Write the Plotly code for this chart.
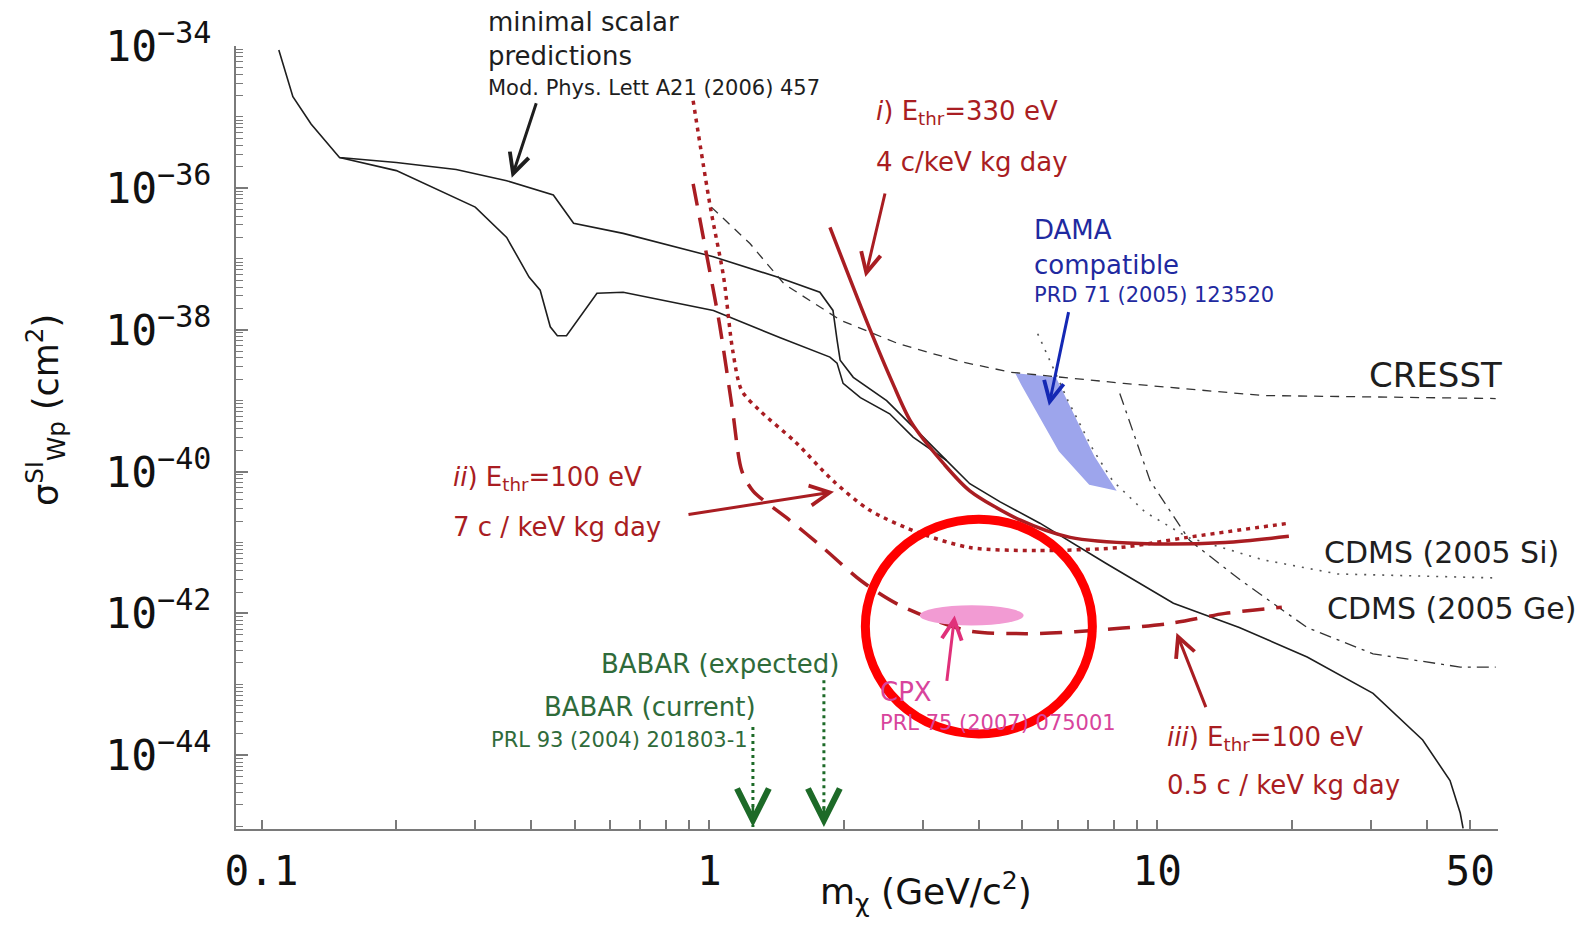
import numpy as np
import plotly.graph_objects as go

# ---------------- data: WIMP mass (GeV/c^2) and cross section (cm^2) ----------------
# minimal scalar predictions: upper and lower boundary of the band (black solid)
scalar_upper_mass = [0.1093, 0.1175, 0.129, 0.1493, 0.2, 0.272, 0.3527, 0.4483, 0.4976, 0.642,
                     1.021, 1.418, 1.765, 1.888, 1.928, 1.959, 2.096, 2.488, 2.85, 3.383]
scalar_upper_sigma = [8.77e-35, 1.93e-35, 7.94e-36, 2.68e-36, 2.28e-36, 1.81e-36, 1.26e-36, 7.94e-37, 3.16e-37,
                      2.28e-37, 1.07e-37, 5.53e-38, 3.38e-38, 1.87e-38, 7.2e-39, 3.72e-39, 2.13e-39, 1.0e-39,
                      4.26e-40, 1.44e-40]
scalar_lower_mass = [0.1493, 0.2, 0.3001, 0.3527, 0.3957, 0.419, 0.4413, 0.4577, 0.4797, 0.508, 0.561, 0.642,
                     1.021, 1.44, 1.859, 1.928, 1.989, 2.174, 2.527, 2.85, 3.383, 3.815, 4.46, 5.47, 7.71,
                     10.87, 15.25, 21.62, 30.34, 39.16, 45.07, 47.5, 48.2]
scalar_lower_sigma = [2.68e-36, 1.75e-36, 5.35e-37, 2.0e-37, 5.53e-38, 3.6e-38, 1.10e-38, 8.2e-39, 8.2e-39,
                      1.35e-38, 3.27e-38, 3.38e-38, 1.87e-38, 7.69e-39, 4.11e-39, 3.38e-39, 1.75e-39, 1.10e-39,
                      6.52e-40, 3.06e-40, 1.44e-40, 6.74e-41, 3.73e-41, 1.87e-41, 5.01e-42, 1.39e-42, 6.31e-43,
                      2.43e-43, 7.44e-44, 1.64e-44, 4.39e-45, 1.53e-45, 9.3e-46]

# CRESST (dashed)
cresst_mass = [1.01, 1.232, 1.47, 1.968, 2.649, 3.68, 4.72, 8.42, 17.2, 57.0]
cresst_sigma = [5.35e-37, 1.64e-37, 4.39e-38, 1.35e-38, 6.31e-39, 3.49e-39, 2.51e-39, 1.75e-39, 1.18e-39, 1.07e-39]

# CDMS 2005 Ge (dash-dot)
cdms_ge_mass = [8.25, 8.92, 9.64, 11.81, 15.33, 21.62, 30.34, 47.5, 57.0]
cdms_ge_sigma = [1.26e-39, 3.16e-40, 7.44e-41, 1.07e-41, 2.96e-42, 6.31e-43, 2.69e-43, 1.75e-43, 1.75e-43]

# CDMS 2005 Si (dotted)
cdms_si_mass = [5.41, 6.32, 7.2, 7.95, 9.4, 11.7, 17.19, 25.27, 57.0]
cdms_si_sigma = [8.77e-39, 1.0e-39, 2.0e-40, 7.44e-41, 2.68e-41, 1.18e-41, 5.71e-42, 3.6e-42, 3.16e-42]

# projected sensitivities (red)
proj_i_mass = [1.859, 2.266, 2.568, 2.82, 3.332, 3.815, 4.95, 6.39, 9.15, 14.18, 19.68]
proj_i_sigma = [2.77e-37, 1.14e-38, 1.75e-39, 5.01e-40, 1.3e-40, 5.35e-41, 2.06e-41, 1.18e-41, 9.68e-42,
                1.0e-41, 1.22e-41]
proj_ii_mass = [0.920, 1.005, 1.076, 1.127, 1.181, 1.297, 1.557, 1.888, 2.278, 2.955, 3.815, 5.38, 8.25,
                11.69, 19.68]
proj_ii_sigma = [1.69e-35, 5.35e-37, 5.53e-38, 5.18e-39, 1.39e-39, 7.2e-40, 2.6e-40, 7.44e-41, 2.86e-41,
                 1.35e-41, 8.49e-42, 7.69e-42, 8.49e-42, 1.18e-41, 1.87e-41]
proj_iii_mass = [0.920, 0.979, 1.053, 1.127, 1.181, 1.251, 1.501, 1.792, 2.185, 2.663, 3.776, 5.08, 6.56,
                 10.64, 14.18, 18.98]
proj_iii_sigma = [1.14e-36, 1.44e-37, 1.22e-38, 7.2e-40, 1.03e-40, 5.35e-41, 2.13e-41, 8.49e-42, 2.86e-42,
                  1.3e-42, 5.71e-43, 5.18e-43, 5.53e-43, 7.2e-43, 1.0e-42, 1.22e-42]

# DAMA compatible region (filled polygon)
dama_mass = [4.82, 5.94, 6.46, 7.24, 8.12, 7.05, 6.03, 5.35, 4.98]
dama_sigma = [2.43e-39, 2.13e-39, 7.2e-40, 1.64e-40, 5.35e-41, 6.52e-41, 1.93e-40, 7.2e-40, 1.64e-39]

# CPX region (ellipse bounds) and the highlight ring around it
cpx_mass = [2.95, 5.03]
cpx_sigma = [6.74e-43, 1.3e-42]
ring_mass = [2.23, 7.165]
ring_sigma = [2.0e-44, 2.13e-41]

# BABAR mass limits (current, expected) and start of their dotted arrows
babar_mass = [1.251, 1.802]
babar_top = [2.51e-44, 1.14e-43]
babar_tip = 9.7e-46

# arrow heads (mass, sigma) pointing at the curves
arrow_scalar = (0.362, 1.39e-36)
arrow_i = (2.23, 5.53e-38)
arrow_ii = (1.898, 5.18e-41)
arrow_iii = (11.04, 5.35e-43)
arrow_dama = (5.73, 8.49e-40)
arrow_cpx = (3.53, 9.36e-43)

x_tickvals = [0.1, 1, 10, 50]
x_ticktext = ["0.1", "1", "10", "50"]
y_tick_exp = [-34, -36, -38, -40, -42, -44]

# ---------------- styling ----------------
RED = "#a91d22"
BLACK = "#1e1e1e"
GREEN_T = "#2f6b3a"
GREEN_A = "#1d6a28"
BLUE_T = "#1f2aa0"
PINK_T = "#d8449c"
TXT = "DejaVu Sans"

W_FIG, H_FIG = 1589, 942
L, T, R, B = 236, 46, 91, 113
PW, PH = W_FIG - L - R, H_FIG - T - B


def px(x):
    return (x - L) / PW


def py(y):
    return (T + PH - y) / PH


fig = go.Figure()


def add_line(x, y, color, width, dash="solid", shape="linear"):
    fig.add_trace(go.Scatter(x=x, y=y, mode="lines", hoverinfo="skip", showlegend=False,
                             line=dict(color=color, width=width, dash=dash, shape=shape,
                                       smoothing=0.8)))


# DAMA fill
fig.add_trace(go.Scatter(x=dama_mass, y=dama_sigma, mode="lines", fill="toself",
                         fillcolor="#9da5ec", line=dict(width=0, color="#9da5ec"),
                         hoverinfo="skip", showlegend=False))

# black curves
add_line(scalar_upper_mass, scalar_upper_sigma, BLACK, 1.6)
add_line(scalar_lower_mass, scalar_lower_sigma, BLACK, 1.6)
add_line(cresst_mass, cresst_sigma, "#333333", 1.3, dash="9px,7px")
add_line(cdms_ge_mass, cdms_ge_sigma, "#333333", 1.3, dash="12px,6px,3px,6px")
add_line(cdms_si_mass, cdms_si_sigma, "#555555", 1.6, dash="2px,7px")

# red projections
add_line(proj_i_mass, proj_i_sigma, RED, 3.5, shape="spline")
add_line(proj_ii_mass, proj_ii_sigma, RED, 3.5, dash="4px,5px", shape="spline")
add_line(proj_iii_mass, proj_iii_sigma, RED, 3.5, dash="22px,12px", shape="spline")

# BABAR dotted shafts
for m, top in zip(babar_mass, babar_top):
    add_line([m, m], [top, babar_tip], GREEN_A, 3, dash="3px,4px")

# CPX ellipse
fig.add_shape(type="circle", xref="x", yref="y", x0=cpx_mass[0], x1=cpx_mass[1],
              y0=cpx_sigma[0], y1=cpx_sigma[1], fillcolor="#f29bd3", line=dict(width=0))


def arrow(head, dx, dy, color, width=3.0, size=1.3):
    fig.add_annotation(x=np.log10(head[0]), y=np.log10(head[1]), xref="x", yref="y",
                       ax=dx, ay=dy, text="", showarrow=True, arrowhead=5, arrowsize=size,
                       arrowwidth=width, arrowcolor=color, standoff=0)


arrow(arrow_scalar, 25, -76, BLACK)
arrow(arrow_i, 20, -85, RED)
arrow(arrow_ii, -147, 23, RED)
arrow(arrow_iii, 30, 76, RED)
arrow(arrow_dama, 20, -95, "#1428b4")
arrow(arrow_cpx, -8, 67, "#e0307a")
for m in babar_mass:
    fig.add_annotation(x=np.log10(m), y=np.log10(babar_tip), xref="x", yref="y", ax=0, ay=-22,
                       text="", showarrow=True, arrowhead=5, arrowsize=2.4, arrowwidth=2.6,
                       arrowcolor=GREEN_A, standoff=0)


def label(text, x, y, color, size, xanchor="left"):
    fig.add_annotation(text=text, xref="paper", yref="paper", x=px(x), y=py(y), xanchor=xanchor,
                       yanchor="middle", showarrow=False,
                       font=dict(family=TXT, size=size, color=color))


label("minimal scalar", 486, 22, BLACK, 26)
label("predictions", 486, 56, BLACK, 26)
label("Mod. Phys. Lett A21 (2006) 457", 486, 88, BLACK, 21)
label("<i>i</i>) E<sub>thr</sub>=330 eV", 874, 112, RED, 26)
label("4 c/keV kg day", 874, 162, RED, 26)
label("DAMA", 1032, 230, BLUE_T, 26)
label("compatible", 1032, 265, BLUE_T, 26)
label("PRD 71 (2005) 123520", 1032, 295, BLUE_T, 21)
label("CRESST", 1504, 375, BLACK, 34, xanchor="right")
label("<i>ii</i>) E<sub>thr</sub>=100 eV", 451, 479, RED, 26)
label("7 c / keV kg day", 451, 527, RED, 26)
label("CDMS (2005 Si)", 1322, 552, BLACK, 30)
label("CDMS (2005 Ge)", 1325, 609, BLACK, 30)
label("BABAR (expected)", 841, 664, GREEN_T, 26, xanchor="right")
label("BABAR (current)", 758, 707, GREEN_T, 26, xanchor="right")
label("PRL 93 (2004) 201803-1", 750, 740, GREEN_T, 21, xanchor="right")
label("CPX", 878, 692, PINK_T, 26)
label("PRL 75 (2007) 075001", 878, 723, PINK_T, 21)
label("<i>iii</i>) E<sub>thr</sub>=100 eV", 1165, 738, RED, 26)
label("0.5 c / keV kg day", 1165, 785, RED, 26)

# highlight ring (drawn on top of the CPX labels)
fig.add_shape(type="circle", xref="x", yref="y", x0=ring_mass[0], x1=ring_mass[1],
              y0=ring_sigma[0], y1=ring_sigma[1], line=dict(color="#ff0000", width=9))

# axis titles
fig.add_annotation(text="σ<sup>SI</sup><sub>Wp</sub> (cm<sup>2</sup>)", xref="paper", yref="paper",
                   x=px(46), y=py(410), textangle=-90, showarrow=False, xanchor="center",
                   yanchor="middle", font=dict(family=TXT, size=35, color="#111111"))
fig.add_annotation(text="m<sub>χ</sub> (GeV/c<sup>2</sup>)", xref="paper", yref="paper",
                   x=px(926), y=py(892), showarrow=False, xanchor="center", yanchor="middle",
                   font=dict(family=TXT, size=36, color="#111111"))

x_minor = [d * 10.0 ** e for e in (-1, 0, 1) for d in range(2, 10) if d * 10.0 ** e < 57]
y_minor = [d * 10.0 ** e for e in range(-46, -33) for d in range(1, 10)
           if not (d == 1 and e % 2 == 0) and d * 10.0 ** e <= 1e-34]

fig.update_xaxes(type="log", range=[-1.057, 1.761], showgrid=False, zeroline=False,
                 showline=True, linecolor="#7a7a7a", linewidth=2,
                 ticks="inside", ticklen=9, tickwidth=1.5, tickcolor="#7a7a7a",
                 tickvals=x_tickvals, ticktext=x_ticktext, ticklabelstandoff=5,
                 tickfont=dict(family="DejaVu Sans Mono", size=41, color="#111111"),
                 minor=dict(tickvals=x_minor, ticks="inside", ticklen=9, tickwidth=1.5,
                            tickcolor="#7a7a7a", showgrid=False))
fig.update_yaxes(type="log", range=[-45.04, -34], showgrid=False, zeroline=False,
                 showline=True, linecolor="#7a7a7a", linewidth=2,
                 ticks="inside", ticklen=12, tickwidth=1.5, tickcolor="#7a7a7a",
                 tickvals=[10.0 ** e for e in y_tick_exp],
                 ticktext=["10<sup>\u2212%d</sup>" % (-e) for e in y_tick_exp],
                 ticklabelstandoff=14,
                 tickfont=dict(family="DejaVu Sans Mono", size=43, color="#111111"),
                 minor=dict(tickvals=y_minor, ticks="inside", ticklen=7, tickwidth=1.2,
                            tickcolor="#7a7a7a", showgrid=False))

fig.update_layout(width=W_FIG, height=H_FIG, margin=dict(l=L, r=R, t=T, b=B, autoexpand=False),
                  paper_bgcolor="white", plot_bgcolor="white", showlegend=False)

fig.write_html("out.html")
